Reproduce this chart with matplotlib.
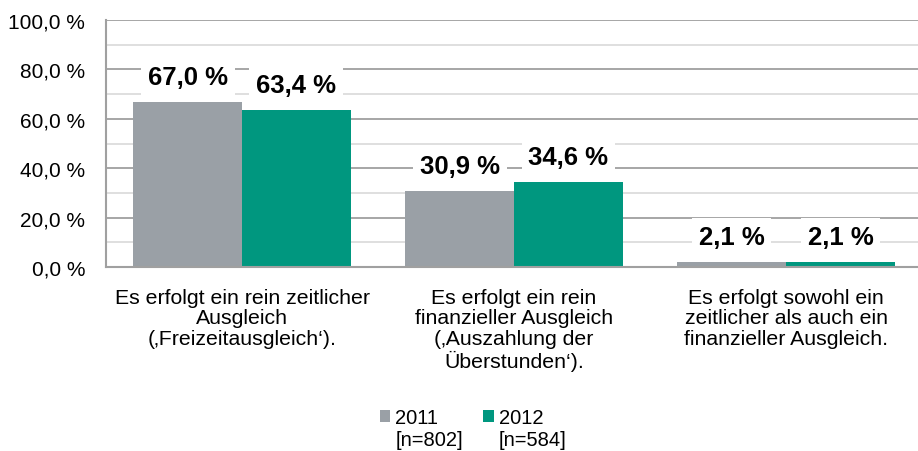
import numpy as np
import matplotlib.pyplot as plt
from matplotlib.ticker import MultipleLocator, FuncFormatter

plt.rcParams['font.family'] = ['Liberation Sans', 'DejaVu Sans']

categories = ["Es erfolgt ein rein zeitlicher\nAusgleich\n(\u201aFreizeitausgleich\u2018).",
              "Es erfolgt ein rein\nfinanzieller Ausgleich\n(\u201aAuszahlung der\n\u00dcberstunden\u2018).",
              "Es erfolgt sowohl ein\nzeitlicher als auch ein\nfinanzieller Ausgleich."]
values_2011 = [67.0, 30.9, 2.1]
values_2012 = [63.4, 34.6, 2.1]
series_labels = ["2011", "2012"]
n_labels = ["[n=802]", "[n=584]"]

gray = "#9aa0a6"
teal = "#00977f"

fig = plt.figure(figsize=(9.18, 4.52), dpi=100)
ax = fig.add_axes([106/918, 1 - 268/452, 1 - 106/918, (268 - 21)/452])

x = np.arange(len(categories))
w = 0.4
b1 = ax.bar(x - w/2, values_2011, w, color=gray, label=series_labels[0], zorder=2)
b2 = ax.bar(x + w/2, values_2012, w, color=teal, label=series_labels[1], zorder=2)

for bars, vals in ((b1, values_2011), (b2, values_2012)):
    for r, v in zip(bars, vals):
        ax.annotate(f"{v:.1f} %".replace(".", ","),
                    xy=(r.get_x() + r.get_width()/2, v),
                    xytext=(0, 18), textcoords="offset points",
                    ha="center", va="center", fontsize=18.5, fontweight="bold",
                    bbox=dict(facecolor="white", edgecolor="none", pad=5),
                    zorder=4)

ax.set_xlim(-0.5, 2.485)
ax.set_ylim(0, 100)
ax.yaxis.set_major_locator(MultipleLocator(20))
ax.yaxis.set_minor_locator(MultipleLocator(10))
ax.yaxis.set_major_formatter(FuncFormatter(lambda v, p: f"{v:.1f} %".replace(".", ",")))
ax.grid(which="major", axis="y", color="#a6a6a6", linewidth=1.4, zorder=0)
ax.grid(which="minor", axis="y", color="#d9d9d9", linewidth=1.2, zorder=0)
ax.set_axisbelow(True)

ax.set_xticks(x)
ax.set_xticklabels(categories, fontsize=15.3, linespacing=1.1)
ax.tick_params(axis="x", length=0, pad=15)
ax.tick_params(axis="y", which="both", length=0, pad=15, labelsize=15)

for s in ("top", "right"):
    ax.spines[s].set_visible(False)
for s in ("left", "bottom"):
    ax.spines[s].set_color("#a0a0a0")
    ax.spines[s].set_linewidth(1.5)

leg = fig.legend(handles=[b1, b2], labels=series_labels, loc="upper left",
                 bbox_to_anchor=(370/918, 1 - 399/452), ncol=2, frameon=False,
                 fontsize=14.5, handlelength=0.5, handleheight=0.5,
                 handletextpad=0.25, columnspacing=2.25, borderpad=0)

# sample sizes go under the legend labels
fig.canvas.draw()
inv = fig.transFigure.inverted()
for t, nl in zip(leg.get_texts(), n_labels):
    bb = t.get_window_extent()
    x0, y0 = inv.transform((bb.x0, bb.y0 - 3))
    fig.text(x0, y0, nl, ha="left", va="top", fontsize=14.5)

fig.savefig("out.png", dpi=100)
